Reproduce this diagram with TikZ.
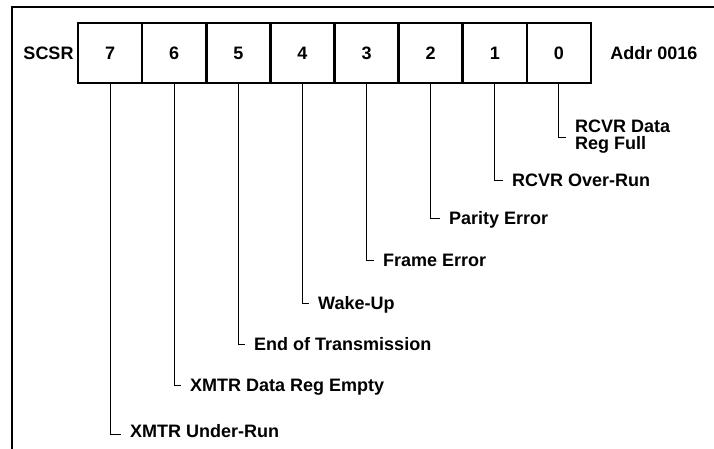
\documentclass[tikz,border=0pt]{standalone}
\usepackage{fontspec}
\setmainfont{Liberation Sans}
\begin{document}
\begin{tikzpicture}[x=1pt,y=-1pt,
  font=\bfseries\fontsize{18}{17}\selectfont,
  cell/.style={draw, line width=2.6pt, minimum width=64.125pt, minimum height=60pt, inner sep=0pt},
  lbl/.style={anchor=west, inner sep=0pt, text height=12.8pt, text depth=0pt},
  conn/.style={line width=0.9pt},
  frame/.style={line width=1.2pt}]
\useasboundingbox (0,0) rectangle (714,449);
% frame
\draw[frame] (12,449) -- (12,7) -- (714,7);
% register cells
\node[cell] (b7) at (110.06,53) {7};
\node[cell] (b6) at (174.19,53) {6};
\node[cell] (b5) at (238.31,53) {5};
\node[cell] (b4) at (302.44,53) {4};
\node[cell] (b3) at (366.56,53) {3};
\node[cell] (b2) at (430.69,53) {2};
\node[cell] (b1) at (494.81,53) {1};
\node[cell] (b0) at (558.94,53) {0};
\node[inner sep=0pt] (scsr) at (48.5,53) {SCSR};
\node[inner sep=0pt] (addr) at (654,53) {Addr 0016};
% labels
\node[lbl] (l7) at (130,431) {XMTR Under-Run};
\node[lbl] (l6) at (190,385) {XMTR Data Reg Empty};
\node[lbl] (l5) at (254,344) {End of Transmission};
\node[lbl] (l4) at (318,303) {Wake-Up};
\node[lbl] (l3) at (383,260) {Frame Error};
\node[lbl] (l2) at (449,218) {Parity Error};
\node[lbl] (l1) at (512,180) {RCVR Over-Run};
\node[anchor=west, inner sep=0pt, align=left] (l0) at (575,137) {RCVR Data\\Reg Full};
% connectors
\draw[conn] (b7.south) |- ([xshift=-9pt,yshift=-3pt]l7.west);
\draw[conn] (b6.south) |- ([xshift=-9pt]l6.west);
\draw[conn] (b5.south) |- ([xshift=-9pt]l5.west);
\draw[conn] (b4.south) |- ([xshift=-9pt]l4.west);
\draw[conn] (b3.south) |- ([xshift=-9pt]l3.west);
\draw[conn] (b2.south) |- ([xshift=-9pt]l2.west);
\draw[conn] (b1.south) |- ([xshift=-9pt]l1.west);
\draw[conn] (b0.south) |- ([xshift=-9pt]l0.west);
\end{tikzpicture}
\end{document}
